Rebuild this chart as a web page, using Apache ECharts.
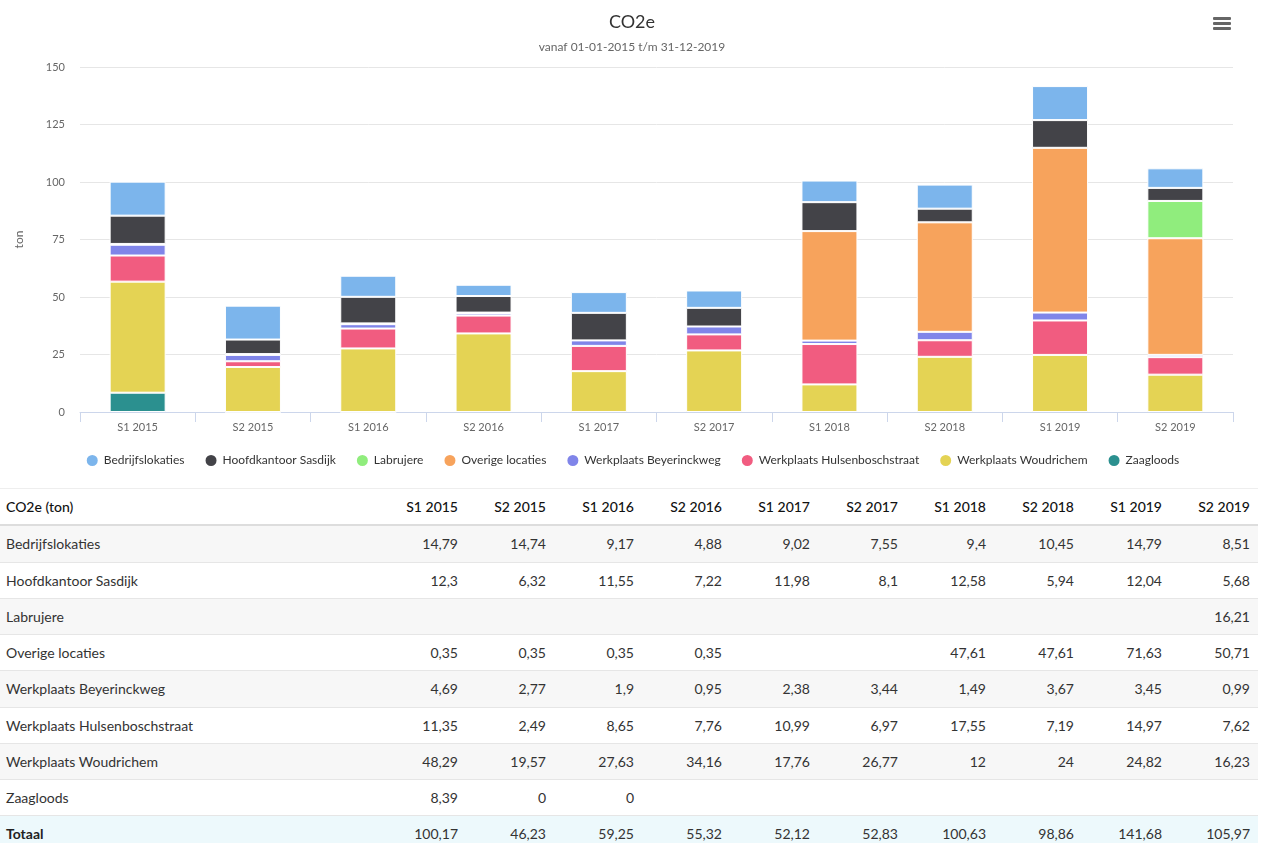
<!DOCTYPE html>
<html>
<head>
<meta charset="utf-8">
<script src="https://cdn.jsdelivr.net/npm/echarts@6/dist/echarts.min.js"></script>
<style>
  html, body { margin: 0; padding: 0; background: #fff; font-family: Lato, "Open Sans", sans-serif; }
  #chart { width: 1264px; height: 480px; }
  #tbl { position: absolute; left: 0; top: 488px; width: 1258px; border-collapse: collapse; font-size: 14px; color: #333; table-layout: fixed; }
  #tbl th, #tbl td { height: 35.25px; padding: 0 8px 0 6px; border-bottom: 1px solid #e6e6e6; white-space: nowrap; }
  #tbl th { font-weight: 500; color: #111; border-top: 1px solid #eee; border-bottom: 2px solid #ddd; text-align: right; }
  #tbl th:first-child, #tbl td:first-child { text-align: left; }
  #tbl td { text-align: right; }
  #tbl tbody tr:nth-child(odd) td { background: #f7f7f7; }
  #tbl tbody tr.total td { background: #edf9fc; }
  #tbl tbody tr.total td:first-child { font-weight: 700; color: #222; }
</style>
</head>
<body>
<div id="chart"></div>
<table id="tbl"></table>
<script>
const categories = ['S1 2015','S2 2015','S1 2016','S2 2016','S1 2017','S2 2017','S1 2018','S2 2018','S1 2019','S2 2019'];
const yTicks = [0, 25, 50, 75, 100, 125, 150];

const seriesNames = ['Bedrijfslokaties','Hoofdkantoor Sasdijk','Labrujere','Overige locaties','Werkplaats Beyerinckweg','Werkplaats Hulsenboschstraat','Werkplaats Woudrichem','Zaagloods'];
const seriesColors = ['#7cb5ec','#434348','#90ed7d','#f7a35c','#8085e9','#f15c80','#e4d354','#2b908f'];

const bedrijfslokaties = [14.79, 14.74, 9.17, 4.88, 9.02, 7.55, 9.4, 10.45, 14.79, 8.51];
const hoofdkantoorSasdijk = [12.3, 6.32, 11.55, 7.22, 11.98, 8.1, 12.58, 5.94, 12.04, 5.68];
const labrujere = [null, null, null, null, null, null, null, null, null, 16.21];
const overigeLocaties = [0.35, 0.35, 0.35, 0.35, null, null, 47.61, 47.61, 71.63, 50.71];
const werkplaatsBeyerinckweg = [4.69, 2.77, 1.9, 0.95, 2.38, 3.44, 1.49, 3.67, 3.45, 0.99];
const werkplaatsHulsenboschstraat = [11.35, 2.49, 8.65, 7.76, 10.99, 6.97, 17.55, 7.19, 14.97, 7.62];
const werkplaatsWoudrichem = [48.29, 19.57, 27.63, 34.16, 17.76, 26.77, 12, 24, 24.82, 16.23];
const zaagloods = [8.39, 0, 0, null, null, null, null, null, null, null];
const totaal = [100.17, 46.23, 59.25, 55.32, 52.12, 52.83, 100.63, 98.86, 141.68, 105.97];

const seriesData = [bedrijfslokaties, hoofdkantoorSasdijk, labrujere, overigeLocaties, werkplaatsBeyerinckweg, werkplaatsHulsenboschstraat, werkplaatsWoudrichem, zaagloods];

const FONT = 'Lato, "Open Sans", sans-serif';

// stack bottom-up: last listed series at bottom
const series = [];
for (let i = seriesNames.length - 1; i >= 0; i--) {
  series.push({
    name: seriesNames[i],
    type: 'bar',
    stack: 'total',
    barWidth: 56,
    data: seriesData[i],
    itemStyle: { color: seriesColors[i], borderColor: '#fff', borderWidth: 1 },
    emphasis: { disabled: true }
  });
}

const chart = echarts.init(document.getElementById('chart'), null, { renderer: 'canvas' });
chart.setOption({
  animation: false,
  textStyle: { fontFamily: FONT },
  title: {
    text: 'CO2e',
    subtext: 'vanaf 01-01-2015 t/m 31-12-2019',
    left: 'center',
    top: 8,
    itemGap: 10,
    textStyle: { fontSize: 18, fontWeight: 'normal', color: '#333', fontFamily: FONT },
    subtextStyle: { fontSize: 12, color: '#666', fontFamily: FONT }
  },
  legend: {
    data: seriesNames,
    top: 448,
    left: 'center',
    icon: 'circle',
    itemWidth: 13,
    itemHeight: 13,
    itemGap: 19,
    textStyle: { fontSize: 12, color: '#333', fontFamily: FONT }
  },
  grid: { left: 80, right: 31, top: 67, bottom: 68, containLabel: false },
  xAxis: {
    type: 'category',
    data: categories,
    axisLine: { lineStyle: { color: '#ccd6eb' } },
    axisTick: { show: true, length: 10, lineStyle: { color: '#ccd6eb' } },
    axisLabel: { color: '#666', fontSize: 11, margin: 10, fontFamily: FONT }
  },
  yAxis: {
    type: 'value',
    min: yTicks[0],
    max: yTicks[yTicks.length - 1],
    interval: 25,
    name: 'ton',
    nameLocation: 'middle',
    nameGap: 55,
    nameTextStyle: { color: '#666', fontSize: 12, fontFamily: FONT },
    axisLine: { show: false },
    axisTick: { show: false },
    splitLine: { lineStyle: { color: '#e6e6e6' } },
    axisLabel: { color: '#666', fontSize: 11, margin: 15, fontFamily: FONT }
  },
  graphic: [
    { type: 'rect', right: 33, top: 17, shape: { width: 18, height: 3, r: 1 }, style: { fill: '#666' } },
    { type: 'rect', right: 33, top: 22, shape: { width: 18, height: 3, r: 1 }, style: { fill: '#666' } },
    { type: 'rect', right: 33, top: 27, shape: { width: 18, height: 3, r: 1 }, style: { fill: '#666' } }
  ],
  series: series
});

// data table
function fmt(v) {
  if (v === null || v === undefined) return '';
  return String(v).replace('.', ',');
}
const tbl = document.getElementById('tbl');
let html = '<colgroup><col style="width:378px">' + categories.map(() => '<col style="width:88px">').join('') + '</colgroup>';
html += '<thead><tr><th>CO2e (ton)</th>' + categories.map(c => '<th>' + c + '</th>').join('') + '</tr></thead><tbody>';
seriesNames.forEach((n, i) => {
  html += '<tr><td>' + n + '</td>' + seriesData[i].map(v => '<td>' + fmt(v) + '</td>').join('') + '</tr>';
});
html += '<tr class="total"><td>Totaal</td>' + totaal.map(v => '<td>' + fmt(v) + '</td>').join('') + '</tr>';
html += '</tbody>';
tbl.innerHTML = html;
</script>
</body>
</html>
